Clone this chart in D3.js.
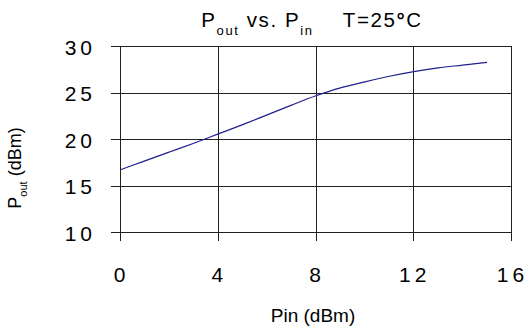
<!DOCTYPE html>
<html><head><meta charset="utf-8">
<script src="https://cdn.jsdelivr.net/npm/d3@7"></script>
<style>body{margin:0;background:#fff}svg text{font-family:"Liberation Sans",Arial,sans-serif;fill:#000}</style>
</head><body><svg id="c" width="526" height="327"></svg>
<script>
const pin = [0, 1, 2, 3, 4, 5, 6, 7, 8, 9, 10, 11, 12, 13, 14, 15];
const pout = [16.75, 17.7, 18.65, 19.6, 20.6, 21.6, 22.65, 23.7, 24.7, 25.55, 26.2, 26.8, 27.3, 27.7, 28.0, 28.3];
const xTicks = [0, 4, 8, 12, 16];
const yTicks = [10, 15, 20, 25, 30];

const svg = d3.select("#c");
const x = d3.scaleLinear().domain([0, 16]).range([120.5, 511.5]);
const y = d3.scaleLinear().domain([10, 30]).range([232.5, 46.5]);
const g = svg.append("g").attr("shape-rendering", "crispEdges");

g.selectAll(".h").data(yTicks).join("line")
  .attr("x1", x(0) - 10).attr("x2", x(16))
  .attr("y1", d => y(d)).attr("y2", d => y(d))
  .attr("stroke", "#222").attr("stroke-width", 1);
g.selectAll(".v").data(xTicks).join("line")
  .attr("x1", d => x(d)).attr("x2", d => x(d))
  .attr("y1", y(30)).attr("y2", y(10) + 8)
  .attr("stroke", "#222").attr("stroke-width", 1);

const LS = 4;
function spaced(sel) {
  sel.each(function(d) {
    const s = String(d).split("");
    d3.select(this).selectAll("tspan").data(s).join("tspan")
      .attr("dx", (c, i) => i ? LS : 0).text(c => c);
  });
}
svg.selectAll(".yl").data(yTicks).join("text")
  .attr("x", 92).attr("y", d => y(d) + 8)
  .attr("text-anchor", "end").attr("font-size", 21)
  .call(spaced);
svg.selectAll(".xl").data(xTicks).join("text")
  .attr("x", d => x(d) - 1).attr("y", 282)
  .attr("text-anchor", "middle").attr("font-size", 21)
  .call(spaced);

const line = d3.line().x((d, i) => x(pin[i])).y(d => y(d)).curve(d3.curveMonotoneX);
svg.append("path").datum(pout).attr("d", line)
  .attr("fill", "none").attr("stroke", "#1f1f8f").attr("stroke-width", 1.2);

const t = svg.append("text").attr("x", 312).attr("y", 27).attr("text-anchor", "middle")
  .attr("font-size", 20.5).attr("letter-spacing", 1.6);
t.append("tspan").text("P");
t.append("tspan").attr("font-size", 13).attr("dy", 8).text("out");
t.append("tspan").attr("dy", -8).text(" vs. P");
t.append("tspan").attr("font-size", 13).attr("dy", 8).text("in");
t.append("tspan").attr("dy", -8).text("\u00a0\u00a0\u00a0\u00a0T=25");
t.append("tspan").attr("font-weight", "bold").text("\u00b0");
t.append("tspan").text("C");

svg.append("text").attr("x", 313).attr("y", 322).attr("text-anchor", "middle")
  .attr("font-size", 19).text("Pin (dBm)");
const yl = svg.append("text").attr("transform", "translate(21,168) rotate(-90)")
  .attr("text-anchor", "middle").attr("font-size", 18);
yl.append("tspan").text("P");
yl.append("tspan").attr("font-size", 11).attr("dy", 6).text("out");
yl.append("tspan").attr("dy", -6).text(" (dBm)");
</script></body></html>
